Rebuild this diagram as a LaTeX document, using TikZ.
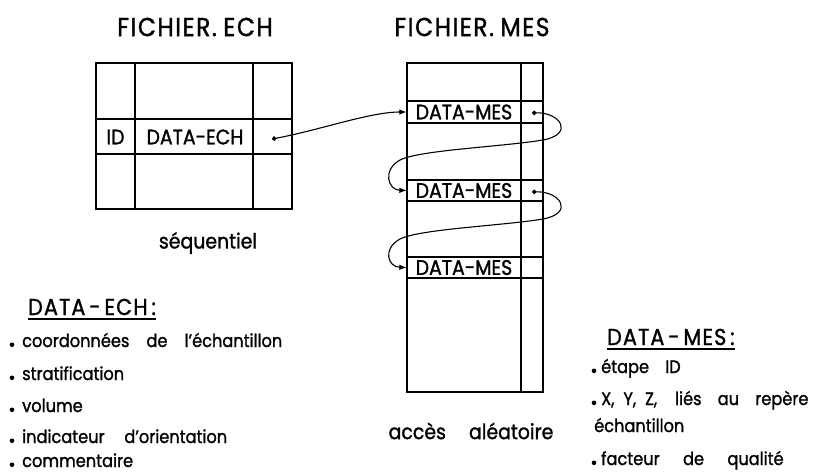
\documentclass[tikz,border=0pt]{standalone}
\usepackage{fontspec}
\setmainfont{Poppins}[FakeStretch=0.9, FakeBold=1.3]
\usetikzlibrary{arrows.meta}
\begin{document}
\begin{tikzpicture}[x=1pt,y=-1pt,
  frame/.style={line width=1.8pt},
  cell/.style={inner sep=0pt, font=\fontsize{21}{21}\selectfont},
  ttl/.style={inner sep=0pt, font=\fontsize{26}{26}\selectfont\addfontfeatures{LetterSpace=6}},
  captext/.style={inner sep=0pt, font=\fontsize{21}{21}\selectfont},
  hd/.style={inner sep=0pt, anchor=base west, font=\fontsize{23}{23}\selectfont\addfontfeatures{LetterSpace=5}},
  item/.style={inner sep=0pt, anchor=base west, font=\fontsize{18}{18}\selectfont},
  bul/.style={fill=black},
  ptr/.style={line width=1.1pt, {Circle[length=4.5pt]}-{Latex[length=7.5pt,width=5.5pt]}},
  uline/.style={line width=1.2pt}]
\useasboundingbox (0,0) rectangle (828,475);
% titles
\node[ttl] (tech) at (195,27) {FICHIER.\hspace{0.25em}ECH};
\node[ttl] (tmes) at (472,27) {FICHIER.\hspace{0.25em}MES};
% FICHIER.ECH table
\draw[frame] (96,63) rectangle (292,209);
\draw[frame] (135,63) -- (135,209) (253,63) -- (253,209)
             (96,119) -- (292,119) (96,154) -- (292,154);
\node[cell] (eid) at (115.5,137) {ID};
\node[cell] (edata) at (195,137) {DATA-ECH};
\coordinate (edot) at (272,139);
\node[captext] (seq) at (208,243) {séquentiel};
% FICHIER.MES table
\draw[frame] (407,63) rectangle (543,392);
\draw[frame] (521,63) -- (521,392)
  (407,101) -- (543,101) (407,123) -- (543,123)
  (407,180) -- (543,180) (407,201) -- (543,201)
  (407,257) -- (543,257) (407,278) -- (543,278);
\node[cell, minimum width=114pt, minimum height=22pt] (m1) at (464,112) {DATA-MES};
\node[cell, minimum width=114pt, minimum height=21pt] (m2) at (464,190.5) {DATA-MES};
\node[cell, minimum width=114pt, minimum height=21pt] (m3) at (464,267.5) {DATA-MES};
\coordinate (mdot1) at (532,113);
\coordinate (mdot2) at (532,192);
\node[captext] (acc) at (471,431) {accès\hspace{1.1em}aléatoire};
% pointers
\draw[ptr] (edot) .. controls (320,130) and (370,112) .. (m1.west);
\draw[ptr] (mdot1) .. controls (560,112) and (575,134) .. (543,140)
  .. controls (500,147) and (420,150) .. (400,160)
  .. controls (382,170) and (388,190) .. (m2.west);
\draw[ptr] (mdot2) .. controls (560,191) and (575,213) .. (543,219)
  .. controls (500,226) and (420,229) .. (400,239)
  .. controls (382,249) and (388,267) .. (m3.west);
% DATA-ECH list
\node[hd] (hech) at (28,315) {DATA\,-\,ECH\,:};
\draw[uline] ([yshift=-4pt]hech.base west) -- ([yshift=-4pt]hech.base east);
\node[item] (e1) at (22,347) {coordonnées\hspace{0.95em}de\hspace{0.95em}l'échantillon};
\node[item] (e2) at (22,380) {stratification};
\node[item] (e3) at (22,412) {volume};
\node[item] (e4) at (22,443) {indicateur\hspace{1.1em}d'orientation};
\node[item] (e5) at (22,467) {commentaire};
\foreach \n in {e1,e2,e3,e4,e5}
  \fill[bul] ([xshift=-10pt,yshift=2.2pt]\n.base west) circle (2.3pt);
% DATA-MES list
\node[hd] (hmes) at (607,345) {DATA\,-\,MES\,:};
\draw[uline] ([yshift=-4pt]hmes.base west) -- ([yshift=-4pt]hmes.base east);
\node[item] (d1) at (601,373) {étape\hspace{0.9em}ID};
\node[item] (d2) at (601,405) {X,\hspace{0.5em}Y,\hspace{0.5em}Z,\hspace{1em}liés\hspace{0.9em}au\hspace{0.9em}repère};
\node[item] (d3) at (594,432) {échantillon};
\node[item] (d4) at (601,465) {facteur\hspace{1.3em}de\hspace{1.3em}qualité};
\foreach \n in {d1,d2,d4}
  \fill[bul] ([xshift=-7pt,yshift=2.2pt]\n.base west) circle (2.3pt);
\end{tikzpicture}
\end{document}
